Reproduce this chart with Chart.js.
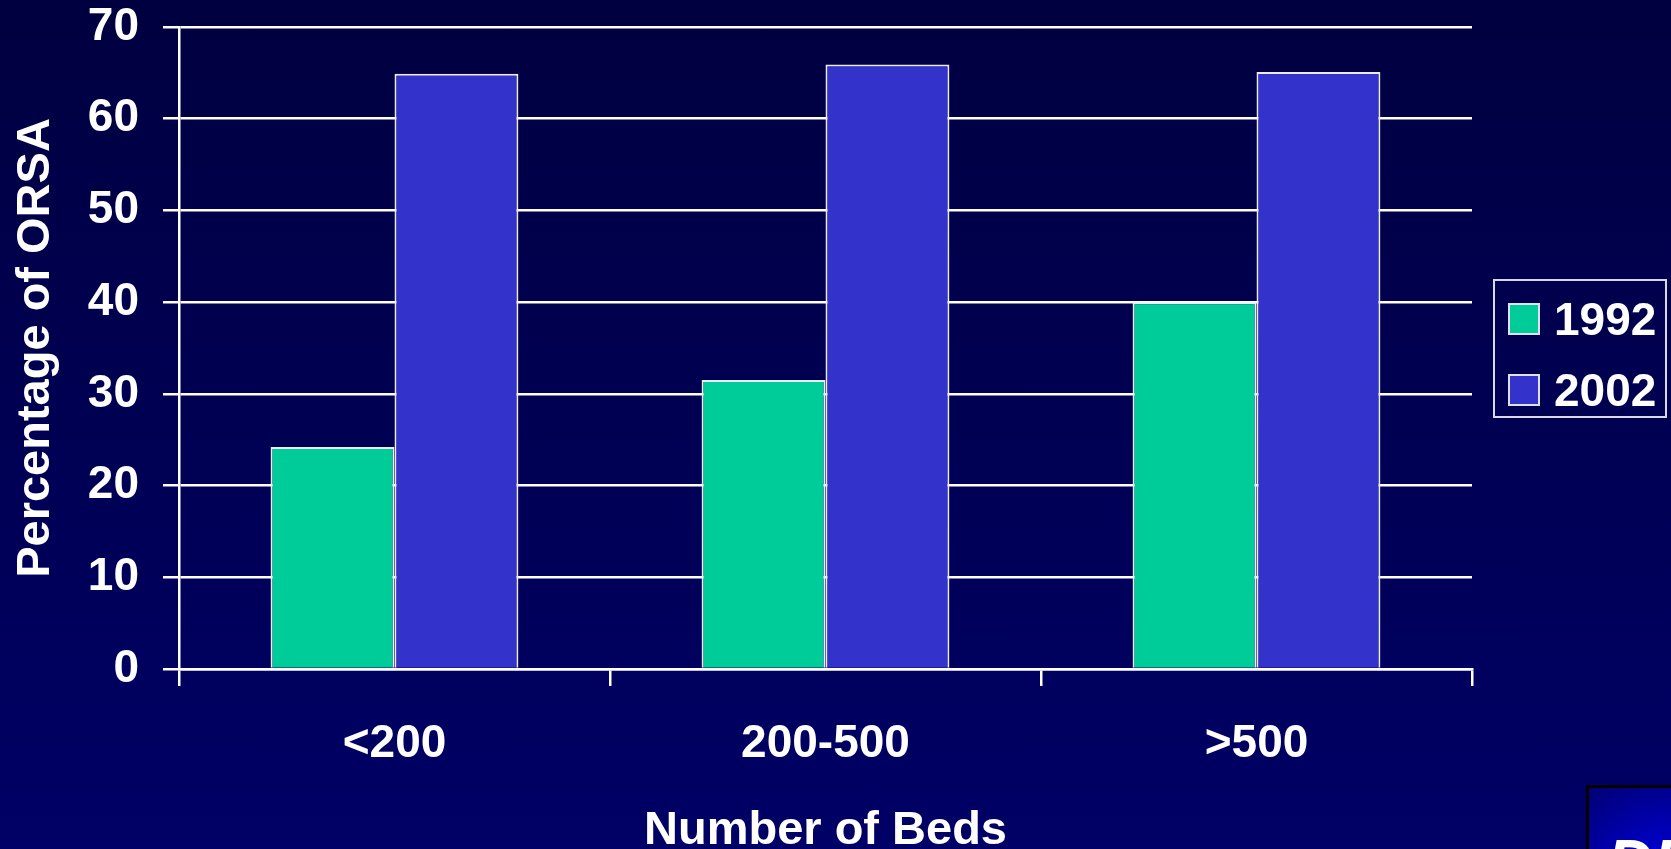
<!DOCTYPE html>
<html>
<head>
<meta charset="utf-8">
<script src="https://cdn.jsdelivr.net/npm/chart.js@4.4.1/dist/chart.umd.min.js"></script>
<style>
    html, body { margin: 0; padding: 0; }
    body {
        width: 1671px; height: 849px; overflow: hidden; position: relative;
        background: linear-gradient(#000040, #000066);
        font-family: "Liberation Sans", Arial, sans-serif;
    }
    #wrap { position: absolute; left: 0; top: 0; width: 1671px; height: 849px; }
    #legend {
        position: absolute; left: 1493px; top: 279px; width: 170px; height: 135px;
        border: 2px solid #d8d8e8; box-sizing: content-box;
    }
    .item { position: absolute; left: 13px; display: flex; align-items: center; height: 40px; }
    .swatch { width: 28px; height: 28px; border: 2px solid #e0e0f0; margin-right: 14px; }
    .item span { color: #fff; font-weight: bold; font-size: 46px; line-height: 40px; }
    #logo {
        position: absolute; left: 1586px; top: 785px; width: 200px; height: 120px;
        border: 3px solid #000; overflow: hidden;
        background: radial-gradient(circle at 40% 90%, #0010f0 0%, #0000c0 35%, #000078 80%);
    }
    #logo span {
        position: absolute; left: 18px; top: 38px; color: #fff;
        font: italic bold 64px "Liberation Sans", Arial, sans-serif;
    }
</style>
</head>
<body>
<div id="wrap"><canvas id="myChart" width="1671" height="849"></canvas></div>
<div id="legend"></div>
<div id="logo"><span>DI</span></div>
<script>
    const categories = ['<200', '200-500', '>500'];
    const seriesNames = ['1992', '2002'];
    const values1992 = [24.2, 31.5, 40.0];
    const values2002 = [64.9, 65.9, 65.1];
    const seriesColors = ['#00cc99', '#3333cc'];

    const FONT = '"Liberation Sans", Arial, sans-serif';

    const ctx = document.getElementById('myChart').getContext('2d');
    const chart = new Chart(ctx, {
        type: 'bar',
        data: {
            labels: categories,
            datasets: [
                { label: seriesNames[0], data: values1992, backgroundColor: seriesColors[0] },
                { label: seriesNames[1], data: values2002, backgroundColor: seriesColors[1] }
            ]
        },
        options: {
            responsive: false,
            animation: false,
            layout: { padding: { left: 0, top: 27, right: 199, bottom: 0 } },
            datasets: {
                bar: {
                    borderColor: '#ececf8',
                    borderWidth: 2,
                    barPercentage: 1,
                    categoryPercentage: 0.575
                }
            },
            scales: {
                x: {
                    grid: {
                        display: true, drawOnChartArea: false, offset: true,
                        color: '#ffffff', lineWidth: 2.5, tickLength: 17
                    },
                    border: { display: true, color: '#ffffff', width: 2.5 },
                    ticks: {
                        color: '#ffffff', padding: 31,
                        font: { family: FONT, size: 46, weight: 'bold', lineHeight: 1.2 }
                    },
                    title: {
                        display: true, text: 'Number of Beds', color: '#ffffff',
                        padding: { top: 0, bottom: -6 },
                        font: { family: FONT, size: 47, weight: 'bold', lineHeight: 1 }
                    },
                    afterFit(scale) { scale.height = 180; }
                },
                y: {
                    min: 0, max: 70,
                    grid: { color: '#ffffff', lineWidth: 2.5, tickLength: 16 },
                    border: { display: true, color: '#ffffff', width: 2.5 },
                    ticks: {
                        stepSize: 10, color: '#ffffff', padding: 24,
                        font: { family: FONT, size: 46, weight: 'bold', lineHeight: 1 }
                    },
                    title: {
                        display: true, text: 'Percentage of ORSA', color: '#ffffff',
                        padding: { top: 13, bottom: 0 },
                        font: { family: FONT, size: 47, weight: 'bold', lineHeight: 1 }
                    },
                    afterFit(scale) {
                        scale.width = 179;
                        scale.paddingTop = 0;
                        scale.paddingBottom = 0;
                    }
                }
            },
            plugins: {
                legend: { display: false },
                tooltip: { enabled: false }
            }
        }
    });

    // legend box on the right, built from the datasets
    const legend = document.getElementById('legend');
    const rowTops = [18, 89];
    chart.data.datasets.forEach((ds, i) => {
        const item = document.createElement('div');
        item.className = 'item';
        item.style.top = rowTops[i] + 'px';
        item.innerHTML = '<div class="swatch" style="background:' + ds.backgroundColor + '"></div><span>' + ds.label + '</span>';
        legend.appendChild(item);
    });
</script>
</body>
</html>
